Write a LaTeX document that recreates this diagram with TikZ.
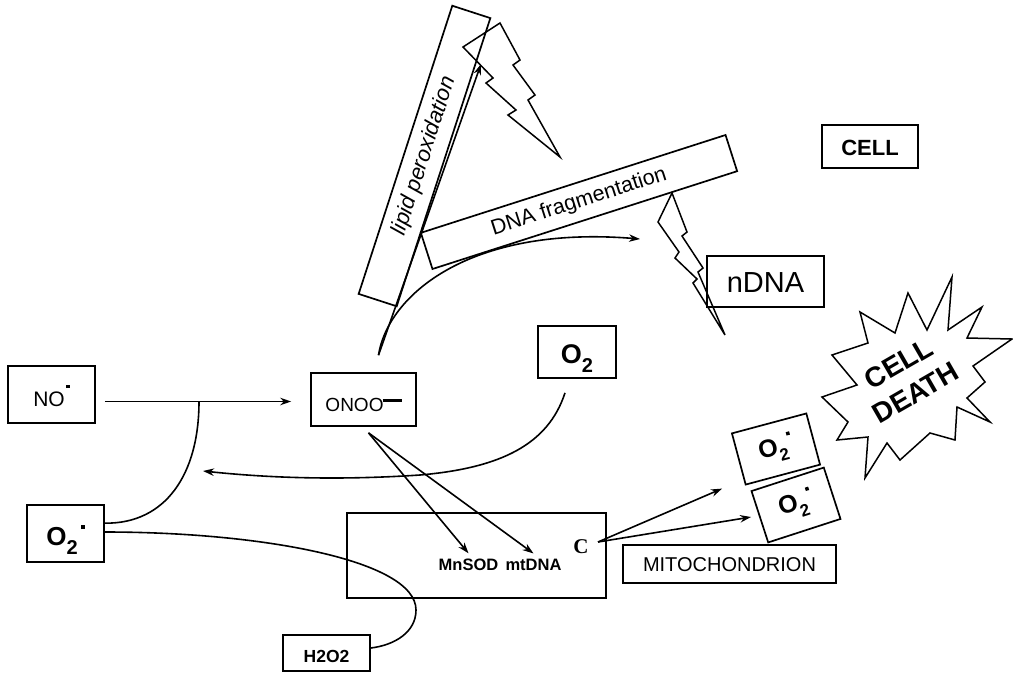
\documentclass[tikz,border=0pt]{standalone}
\usepackage{fontspec}
\setmainfont{Liberation Sans}
\newfontfamily\serifC{Liberation Serif}
\usetikzlibrary{arrows.meta,calc}
\newcommand{\fsz}[1]{\fontsize{#1}{#1}\selectfont}
\newcommand{\rdot}[2]{\raisebox{#1}{\rule{#2}{#2}}}
\begin{document}
\begin{tikzpicture}[x=1pt,y=-1pt,
  box/.style={draw,line width=1.7pt,inner sep=0pt,align=center},
  conn/.style={line width=1.6pt},
  arr/.style={conn,-{Stealth[length=11pt,width=7.5pt]}},
  bolt/.style={draw,line width=1.5pt,line join=miter},
  star/.style={draw,line width=1.5pt,line join=miter},
]
\useasboundingbox (0,0) rectangle (1013,673);
\fill[white] (0,0) rectangle (1013,673);

% ---- boxes
\node[box,minimum width=87pt,minimum height=57pt,text height=23pt,text depth=0pt] (no) at (51.5,394.5) {\fsz{21}NO\hspace{1.5pt}\rdot{18pt}{3.5pt}};
\node[box,minimum width=105pt,minimum height=53pt,text height=24.4pt,text depth=0pt] (onoo) at (363.5,399.5) {\fsz{19}ONOO\hspace{-1pt}\raisebox{9.5pt}{\rule{19pt}{3.2pt}}};
\node[box,minimum width=77pt,minimum height=57pt,text height=23pt,text depth=0pt] (o2l) at (65.5,533.5) {\fsz{26}\textbf{O\raisebox{-9pt}{\fsz{20}2}}\hspace{3pt}\rdot{16pt}{4pt}};
\node[box,minimum width=78pt,minimum height=52pt,text height=22pt,text depth=0pt] (o2t) at (577,352) {\fsz{27}\textbf{O\raisebox{-9pt}{\fsz{20}2}}};
\node[box,minimum width=77pt,minimum height=53pt,rotate=15] (o2a) at (776,449) {\fsz{25}\textbf{O\raisebox{-8pt}{\fsz{17}2}}\hspace{2pt}\rdot{16pt}{3.5pt}};
\node[box,minimum width=76pt,minimum height=54pt,rotate=18] (o2b) at (796,505) {\fsz{25}\textbf{O\raisebox{-8pt}{\fsz{17}2}}\hspace{2pt}\rdot{16pt}{3.5pt}};
\node[box,minimum width=96pt,minimum height=43pt,text height=17pt,text depth=0pt] (cell) at (870,146.5) {\fsz{22}\textbf{CELL}};
\node[box,minimum width=117pt,minimum height=51pt,text height=22.4pt,text depth=0pt] (ndna) at (765.5,281.5) {\fsz{29}nDNA};
\node[box,minimum width=259pt,minimum height=85pt] (mito) at (476.5,555.5) {};
\node[box,minimum width=213pt,minimum height=38pt,text height=14pt,text depth=0pt] (mitolab) at (729.5,564) {\fsz{20}MITOCHONDRION};
\node[box,minimum width=87pt,minimum height=36pt,text height=18pt,text depth=0pt] (h2o2) at (326.5,653) {\fsz{17.5}\textbf{H2O2}};
\node[anchor=base,inner sep=5pt] (mnsod) at (468.5,570) {\fsz{16.5}\textbf{MnSOD}};
\node[anchor=base,inner sep=5pt] (mtdna) at (533.5,570) {\fsz{16.5}\textbf{mtDNA}};
\node (cc) at (581,547) {\fsz{21}\serifC\bfseries C};
\node[box,minimum width=303pt,minimum height=40pt,rotate=72] (lipid) at (424.5,156) {\fsz{22}\itshape lipid peroxidation};
\node[box,minimum width=320pt,minimum height=38pt,rotate=17.8] (dnaf) at (579,202) {\fsz{21.5}DNA fragmentation};

% ---- lightning bolts
\draw[bolt] (463,47) -- (500,23) -- (520,60) -- (513,65) -- (535,95) -- (528,100) -- (560,157) -- (508,115) -- (516,110) -- (486,83) -- (493,78) -- cycle;
\draw[bolt] (672,193) -- (687,232) -- (682,236) -- (703,268) -- (698,272) -- (725,335) -- (693,283) -- (697,279) -- (675,258) -- (679,252) -- (658,222) -- cycle;

% ---- cell death burst
\draw[star] (952,277) -- (948,330) -- (982,307) -- (967,338) -- (1012,339) -- (973,366) -- (985,382) -- (967,398) -- (990,422) -- (957,407) -- (955,440) -- (930,433) -- (900,460) -- (887,443) -- (865,478) -- (868,437) -- (837,440) -- (848,422) -- (822,397) -- (857,385) -- (832,355) -- (868,343) -- (860,312) -- (895,333) -- (908,293) -- (927,330) -- cycle;
\node[rotate=30,align=center,font={\fontsize{28}{34}\selectfont\bfseries}] (death) at (907,378) {CELL\\DEATH};

% ---- connectors
\coordinate (j1) at (199,401.5);
\coordinate (o2tip) at (203,471);
\coordinate (ostart) at ($(onoo.north)+(15,-17)$);
\coordinate (liptip) at (481,64);
\coordinate (dnatip) at (640,239);
\coordinate (os2) at ($(onoo.south)+(5,6)$);
\coordinate (cs) at ($(cc.center)+(17,-5)$);

\draw[arr] ($(no.east)+(9,7)$) -- ($(onoo.west)+(-19,2)$);
\draw[conn] (j1) .. controls (199,475) and (165,524) .. ($(o2l.north east)+(0,19)$);
\draw[conn] ($(o2l.east)+(0,-1.5)$) .. controls (260,532) and (416,560) .. (416,610) .. controls (416,632) and (395,645) .. ($(h2o2.east)+(0,-5)$);
\draw[arr] ($(o2t.south)+(-12,14)$) .. controls (548,445) and (500,468) .. (420,475) .. controls (330,481) and (260,477) .. (o2tip);
\draw[arr] (ostart) -- (liptip);
\draw[arr] (ostart) .. controls (388,295) and (470,225) .. (dnatip);
\draw[arr] (os2) -- (mnsod.north);
\draw[arr] (os2) -- (mtdna.north);
\draw[arr] (cs) -- ($(o2a.south west)+(-23,3)$);
\draw[arr] (cs) -- ($(o2b.west)+(-8,0)$);
\end{tikzpicture}
\end{document}
